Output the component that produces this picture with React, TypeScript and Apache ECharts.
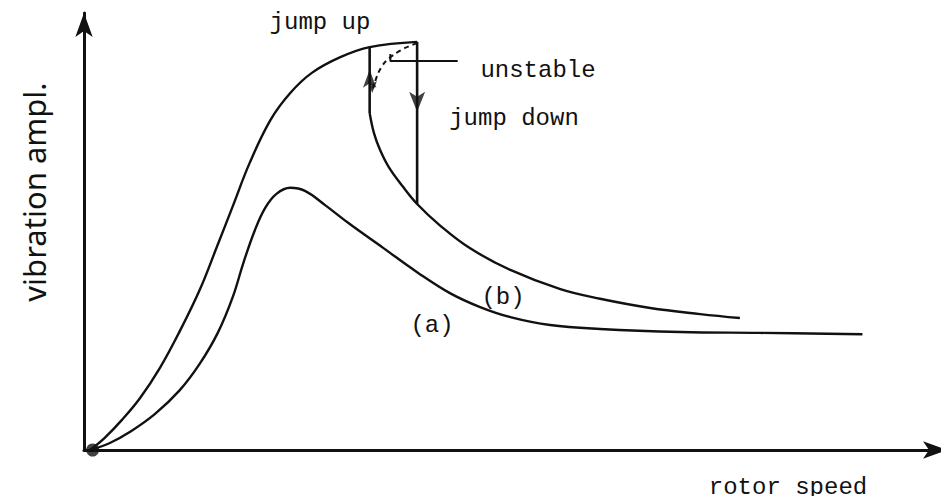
import React, { useEffect, useRef } from "react";
import * as echarts from "echarts";

// Rotor speed (x) vs vibration amplitude (y), both on a 0–100 relative scale.

// (a) linear response: single resonance peak
const curveA: [number, number][] = [
  [0.7, 0], [3.0, 1.6], [5.3, 4.1], [8.2, 8.2], [11.1, 13.7], [13.4, 19.7],
  [15.5, 26.8], [17.2, 34.8], [18.5, 43.0], [19.8, 50.3], [21.0, 55.4],
  [22.3, 58.6], [23.9, 60.0], [25.6, 59.3], [27.9, 56.1], [30.8, 51.7],
  [34.7, 46.2], [38.6, 40.7], [42.4, 35.9], [45.9, 32.7], [49.4, 30.4],
  [54.0, 28.6], [59.8, 27.7], [69.1, 27.0], [78.3, 26.8], [90.2, 26.5],
];

// (b) nonlinear response, rising branch up to the jump-down speed
const curveBUpper: [number, number][] = [
  [0.7, 0], [2.4, 2.8], [4.4, 6.9], [6.5, 11.9], [8.8, 18.8], [11.1, 27.2],
  [13.4, 36.6], [15.4, 46.5], [17.3, 56.1], [19.2, 65.7], [21.6, 75.5],
  [23.9, 81.7], [26.4, 86.3], [29.7, 89.9], [33.1, 92.2], [38.6, 93.4],
];

// (b) lower stable branch from the jump-up speed onwards
const curveBLower: [number, number][] = [
  [33.1, 77.1], [33.6, 72.5], [34.3, 68.7], [35.3, 64.8], [36.9, 60.4],
  [38.6, 56.3], [41.3, 51.3], [44.7, 46.2], [49.4, 41.2], [55.2, 36.8],
  [59.8, 34.6], [65.6, 32.5], [71.4, 31.1], [76.0, 30.2],
];

// (b) unstable branch linking the two
const curveBUnstable: [number, number][] = [
  [38.6, 93.1], [37.2, 92.0], [36.0, 90.6], [34.9, 88.8], [34.1, 86.3], [33.5, 82.8],
];

// jump transitions
const jumpDown: [number, number][] = [[38.6, 93.4], [38.6, 56.3]];
const jumpUp: [number, number][] = [[33.1, 77.1], [33.1, 92.2]];

// leader line for the "unstable" note
const unstableLeader: [number, number][] = [[35.5, 90.6], [35.5, 89.0], [43.3, 89.0]];

// direction arrows
const arrowsUp: [number, number][] = [[33.1, 87.0]];
const arrowsDown: [number, number][] = [[38.6, 77.4]];
const arrowsDownSmall: [number, number][] = [[33.4, 81.7]];

const origin: [number, number][] = [[1.0, 0]];

const INK = "#111";
const MONO = "'Liberation Mono', 'DejaVu Sans Mono', monospace";

export default function App() {
  const ref = useRef<HTMLDivElement>(null);

  useEffect(() => {
    if (!ref.current) return;
    const chart = echarts.init(ref.current, null, { renderer: "svg" });

    const curve = (data: [number, number][], extra: any = {}) => ({
      type: "line",
      data,
      smooth: 0.4,
      symbol: "none",
      clip: false,
      lineStyle: { color: INK, width: 2.4 },
      silent: true,
      ...extra,
    });

    const straight = (data: [number, number][], width = 2.6, extra: any = {}) => ({
      type: "line",
      data,
      smooth: false,
      symbol: "none",
      clip: false,
      lineStyle: { color: INK, width },
      silent: true,
      ...extra,
    });

    const axisCommon = {
      type: "value",
      min: 0,
      max: 100,
      axisLine: {
        show: true,
        lineStyle: { color: INK, width: 3 },
        symbol: ["none", "arrow"],
        symbolSize: [13, 24],
      },
      axisTick: { show: false },
      axisLabel: { show: false },
      splitLine: { show: false },
    };

    const textStyle = (text: string, x: number, y: number, size = 24) => ({
      type: "text",
      x,
      y,
      style: {
        text,
        fill: INK,
        font: `${size}px ${MONO}`,
        align: "center",
        verticalAlign: "middle",
      },
    });

    chart.setOption({
      animation: false,
      backgroundColor: "#fff",
      grid: { left: 84, right: 2, top: 13, bottom: 54 },
      xAxis: axisCommon,
      yAxis: axisCommon,
      series: [
        curve(curveA),
        curve(curveBUpper),
        curve(curveBLower),
        curve(curveBUnstable, {
          smooth: 0.3,
          lineStyle: { color: INK, width: 2, type: [5, 4] },
        }),
        straight(jumpDown),
        straight(jumpUp),
        straight(unstableLeader, 2),
        {
          type: "scatter",
          data: arrowsUp,
          symbol: "arrow",
          symbolSize: [10, 18],
          itemStyle: { color: INK },
          silent: true,
        },
        {
          type: "scatter",
          data: arrowsDown,
          symbol: "arrow",
          symbolRotate: 180,
          symbolSize: [12, 20],
          itemStyle: { color: INK },
          silent: true,
        },
        {
          type: "scatter",
          data: arrowsDownSmall,
          symbol: "arrow",
          symbolRotate: 180,
          symbolSize: [7, 12],
          itemStyle: { color: INK },
          silent: true,
        },
        {
          type: "scatter",
          data: origin,
          symbol: "circle",
          symbolSize: 13,
          itemStyle: { color: INK },
          silent: true,
        },
      ],
      graphic: [
        textStyle("jump up", 320, 22),
        textStyle("unstable", 538, 70),
        textStyle("jump down", 514, 118),
        textStyle("(b)", 503, 297),
        textStyle("(a)", 432, 325),
        textStyle("rotor speed", 788, 487),
        {
          type: "text",
          x: 34,
          y: 192,
          rotation: Math.PI / 2,
          style: {
            text: "vibration ampl.",
            fill: INK,
            font: "31px 'Noto Sans', sans-serif",
            align: "center",
            verticalAlign: "middle",
          },
        },
      ],
    });

    return () => chart.dispose();
  }, []);

  return <div ref={ref} style={{ width: 949, height: 504, margin: -8 }} />;
}
